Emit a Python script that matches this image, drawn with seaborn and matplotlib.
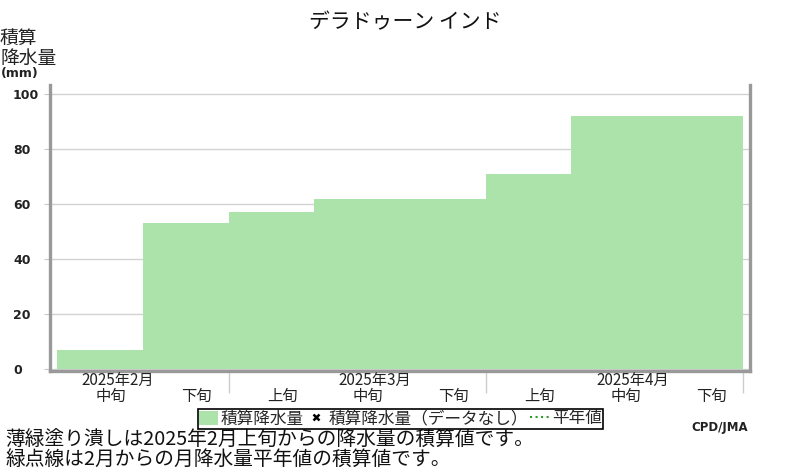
import matplotlib
matplotlib.use("Agg")
import matplotlib.pyplot as plt
import matplotlib.transforms as mtransforms
from matplotlib.patches import Patch
from matplotlib.lines import Line2D
import seaborn as sns
import pandas as pd

# ---- data ----
dekads = ["2月中旬", "2月下旬", "3月上旬", "3月中旬", "3月下旬", "4月上旬", "4月中旬", "4月下旬"]
dekad_labels = ["中旬", "下旬", "上旬", "中旬", "下旬", "上旬", "中旬", "下旬"]
cum_precip = [7, 53, 57, 62, 62, 71, 92, 92]
month_labels = ["2025年2月", "2025年3月", "2025年4月"]
month_label_idx = [0, 3, 6]
month_bounds = [1.5, 4.5, 7.5]
yticks = [0, 20, 40, 60, 80, 100]

sns.set_style("white")
plt.rcParams['font.family'] = ['Noto Sans CJK JP', 'DejaVu Sans']

fig = plt.figure(figsize=(8, 4.7), dpi=100)
ax = fig.add_axes([50/800, 1-371/470, 700/800, 286/470])

df = pd.DataFrame({"dekad": dekads, "value": cum_precip})
sns.barplot(data=df, x="dekad", y="value", color="#abe3aa", saturation=1,
            width=1.0, linewidth=0, ax=ax, zorder=2)

ax.set_xlim(-0.582, 7.582)
ax.set_ylim(-0.73, 103.4)
ax.set_xlabel("")
ax.set_ylabel("")

# grid
ax.set_yticks(yticks)
ax.yaxis.grid(True, color="#d2d2d2", linewidth=1, zorder=0)
ax.set_axisbelow(True)
ax.tick_params(axis="y", length=4.3, width=0.8, color="#c8c8c8", pad=22.3,
               labelsize=9, labelcolor="#222222", left=True)
for lab in ax.get_yticklabels():
    lab.set_horizontalalignment("left")
    lab.set_fontweight("bold")
    lab.set_family(["DejaVu Sans"])

# x ticks
ax.set_xticks(range(len(dekads)))
ax.set_xticklabels(dekad_labels, fontsize=11, color="#222222")
ax.tick_params(axis="x", which="major", length=0, pad=12.5)
offset = mtransforms.ScaledTranslation(0.11, 0, fig.dpi_scale_trans)
for lab in ax.get_xticklabels():
    lab.set_transform(lab.get_transform() + offset)
ax.set_xticks(month_bounds, minor=True)
ax.tick_params(axis="x", which="minor", length=16, width=1, color="#cccccc", bottom=True)

trans = mtransforms.blended_transform_factory(ax.transData, fig.transFigure) + \
    mtransforms.ScaledTranslation(0.18, 0, fig.dpi_scale_trans)
for lbl, i in zip(month_labels, month_label_idx):
    ax.text(i, 1-380/470, lbl, transform=trans, ha="center", va="center",
            fontsize=11, color="#222222")

# spines
for s in ["left", "bottom", "right"]:
    ax.spines[s].set_visible(True)
    ax.spines[s].set_color("#999999")
    ax.spines[s].set_linewidth(2.4)
ax.spines["top"].set_visible(False)

# title & labels
fig.text(405/800, 1-22/470, "デラドゥーン インド", ha="center", va="center",
         fontsize=15, color="#111111")
fig.text(0, 1-48/470, "積算\n降水量", ha="left", va="center", fontsize=13.5,
         color="#222222", linespacing=0.95)
fig.text(1/800, 1-74/470, "(mm)", ha="left", va="center", fontsize=9,
         fontweight="bold", color="#222222", family=["DejaVu Sans"])

# legend
handles = [Patch(facecolor="#abe3aa", edgecolor="none"),
           Line2D([], [], marker="x", color="black", linestyle="none", markersize=4,
                  markeredgewidth=1.8),
           Line2D([], [], color="#2a9a2a", linestyle=":", linewidth=1.5)]
labels = ["積算降水量", "積算降水量（データなし）", "平年値"]
leg = fig.legend(handles, labels, loc="center", bbox_to_anchor=(400.5/800, 1-419/470),
                 ncol=3, fontsize=12, frameon=True, fancybox=False, framealpha=1,
                 edgecolor="black", borderpad=0.1, handlelength=1.1, handletextpad=0.2,
                 columnspacing=0.15, handleheight=0.9, borderaxespad=0)
leg.get_frame().set_linewidth(1.2)

fig.text(5/800, 1-440/470, "薄緑塗り潰しは2025年2月上旬からの降水量の積算値です。",
         ha="left", va="center", fontsize=14.2, color="#111111")
fig.text(5/800, 1-459/470, "緑点線は2月からの月降水量平年値の積算値です。",
         ha="left", va="center", fontsize=14.2, color="#111111")
fig.text(748/800, 1-427/470, "CPD/JMA", ha="right", va="center", fontsize=8.5,
         fontweight="bold", color="#222222", family=["DejaVu Sans"])

fig.savefig("out.png", dpi=100)
